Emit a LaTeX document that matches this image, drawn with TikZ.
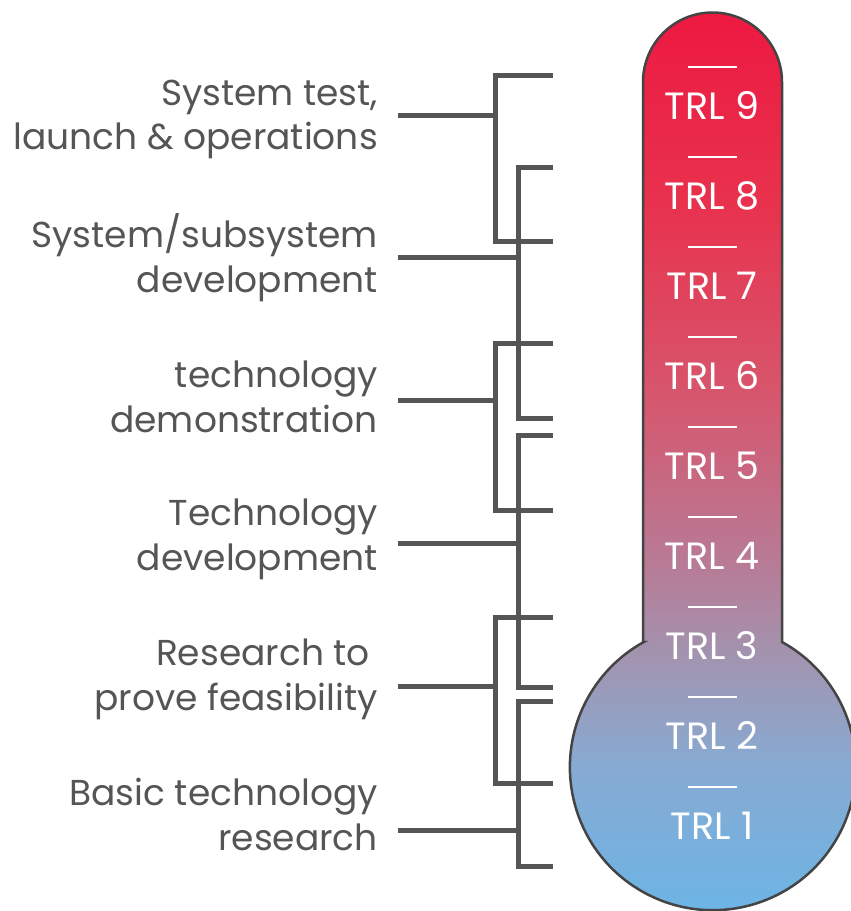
\documentclass[tikz,border=0pt]{standalone}
\usepackage{fontspec}
\setmainfont{Poppins}
\definecolor{linegray}{HTML}{555555}
\definecolor{textgray}{HTML}{555555}
\definecolor{rimgray}{HTML}{444444}
\definecolor{tA}{RGB}{105,182,232}
\definecolor{tB}{RGB}{135,170,210}
\definecolor{tC}{RGB}{160,150,178}
\definecolor{tD}{RGB}{182,125,152}
\definecolor{tE}{RGB}{215,85,108}
\definecolor{tF}{RGB}{232,50,78}
\definecolor{tG}{RGB}{237,25,65}
% mercury colour: blue at the bulb, red at the top of the tube
\pgfdeclareverticalshading{mercury}{100bp}{%
  color(0bp)=(tA); color(25bp)=(tA); color(34bp)=(tB); color(39.5bp)=(tC);
  color(44.5bp)=(tD); color(54.5bp)=(tE); color(64.5bp)=(tF);
  color(75bp)=(tG); color(100bp)=(tG)}
\tikzset{
  bracket/.style={draw=linegray, line width=5pt, line join=miter},
  stem/.style={draw=linegray, line width=5pt},
  phase/.style={anchor=base east, inner sep=0pt, text=textgray, font=\fontsize{36}{44}\selectfont},
  level/.style={anchor=base, inner sep=0pt, text=white, font=\fontsize{38}{44}\selectfont},
  tick/.style={draw=white, line width=2pt},
}
\begin{document}
\begin{tikzpicture}[x=1pt,y=-1pt]
\useasboundingbox (0,0) rectangle (851,911);

% thermometer body
\shadedraw[shading=mercury, draw=rimgray, line width=2.5pt]
  (643,642) -- (643,82) arc[start angle=180, end angle=360, radius=69.5]
  -- (782,642) arc[start angle=-61.1, end angle=241.1, radius=143] -- cycle;

% level ticks and names
\foreach \k in {1,...,9}{
  \pgfmathsetmacro{\ty}{67+90*(9-\k)}
  \pgfmathsetmacro{\by}{119+90*(9-\k)}
  \coordinate (tickL\k) at (688,\ty);
  \coordinate (tickR\k) at (737,\ty);
  \draw[tick] (tickL\k) -- (tickR\k);
  \node[level] (trl\k) at (712,\by) {TRL \k};
}

% phase labels
\node[phase] (p1a) at (378,105) {System test,};
\node[phase] (p1b) at (378,149) {launch \& operations};
\node[phase] (p2a) at (378,247) {System/subsystem};
\node[phase] (p2b) at (378,292) {development};
\node[phase] (p3a) at (378,387) {technology};
\node[phase] (p3b) at (378,432) {demonstration};
\node[phase] (p4a) at (378,525) {Technology};
\node[phase] (p4b) at (378,570) {development};
\node[phase] (p5a) at (370,665) {Research to};
\node[phase] (p5b) at (378,710) {prove feasibility};
\node[phase] (p6a) at (378,805) {Basic technology};
\node[phase] (p6b) at (378,850) {research};

% bracket corners (top end, bottom end) and stem points
\foreach \n/\bx/\ta/\tb/\sy in {1/495/75/241/115, 2/518/167/418/257, 3/495/343/510/400,
                                4/518/435/687/543, 5/495/617/783/686, 6/518/701/866/830}{
  \coordinate (b\n top) at (553,\ta);
  \coordinate (b\n bot) at (553,\tb);
  \coordinate (b\n spine) at (\bx,\sy);
  \coordinate (s\n) at (398,\sy);
  \draw[bracket] (b\n top) -| (b\n spine) |- (b\n bot);
  \draw[stem] (s\n) -- (b\n spine);
}
\end{tikzpicture}
\end{document}
